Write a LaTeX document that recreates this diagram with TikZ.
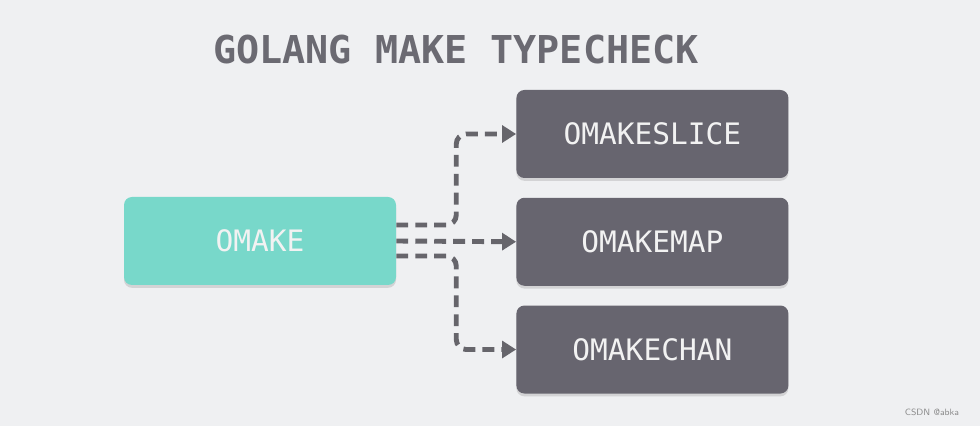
\documentclass[tikz,border=0pt]{standalone}
\usepackage{fontspec}
\setmainfont{DejaVu Sans}
\setmonofont{DejaVu Sans Mono}
\usepackage{tikz}
\usetikzlibrary{positioning, arrows.meta, shadows}
\usepackage{xcolor}
\definecolor{gobg}{HTML}{EFF0F2}
\definecolor{goteal}{HTML}{78D8CA}
\definecolor{godark}{HTML}{67656F}
\definecolor{goline}{HTML}{66656B}
\definecolor{gotitle}{HTML}{6B6A72}

\begin{document}
\begin{tikzpicture}[font=\ttfamily,
    opbox/.style={rounded corners=0.2cm, minimum width=6.8cm, minimum height=2.2cm,
      text=white!95!black, font=\ttfamily\fontsize{21}{24}\selectfont,
      drop shadow={shadow xshift=0pt, shadow yshift=-2pt, opacity=0.25}},
    link/.style={draw=goline, line width=3.5pt, dash pattern=on 8.5pt off 5pt,
      rounded corners=0.25cm, -{Triangle[length=10pt, width=12pt]}}]
    \fill[gobg] (0,0) rectangle (24.5,10.65);
    \node[text=gotitle, font=\ttfamily\bfseries\fontsize{27.3}{31}\selectfont] (title)
      at (11.4,9.42) {GOLANG MAKE TYPECHECK};
    \node[opbox, fill=goteal] (omake) at (6.5,4.625) {OMAKE};
    \node[opbox, fill=godark] (slice) at (16.31,7.3) {OMAKESLICE};
    \node[opbox, fill=godark, below=0.48cm of slice] (map) {OMAKEMAP};
    \node[opbox, fill=godark, below=0.48cm of map] (chan) {OMAKECHAN};
    \draw[link] ([yshift=0.4cm]omake.east) -- ++(1.5,0) |- (slice.west);
    \draw[link] (omake.east) -- (map.west);
    \draw[link] ([yshift=-0.375cm]omake.east) -- ++(1.5,0) |- (chan.west);
    \node[text=black!45, font=\sffamily\fontsize{6.5}{8}\selectfont] (mark)
      at (23.3,0.35) {CSDN @abka};
\end{tikzpicture}
\end{document}
